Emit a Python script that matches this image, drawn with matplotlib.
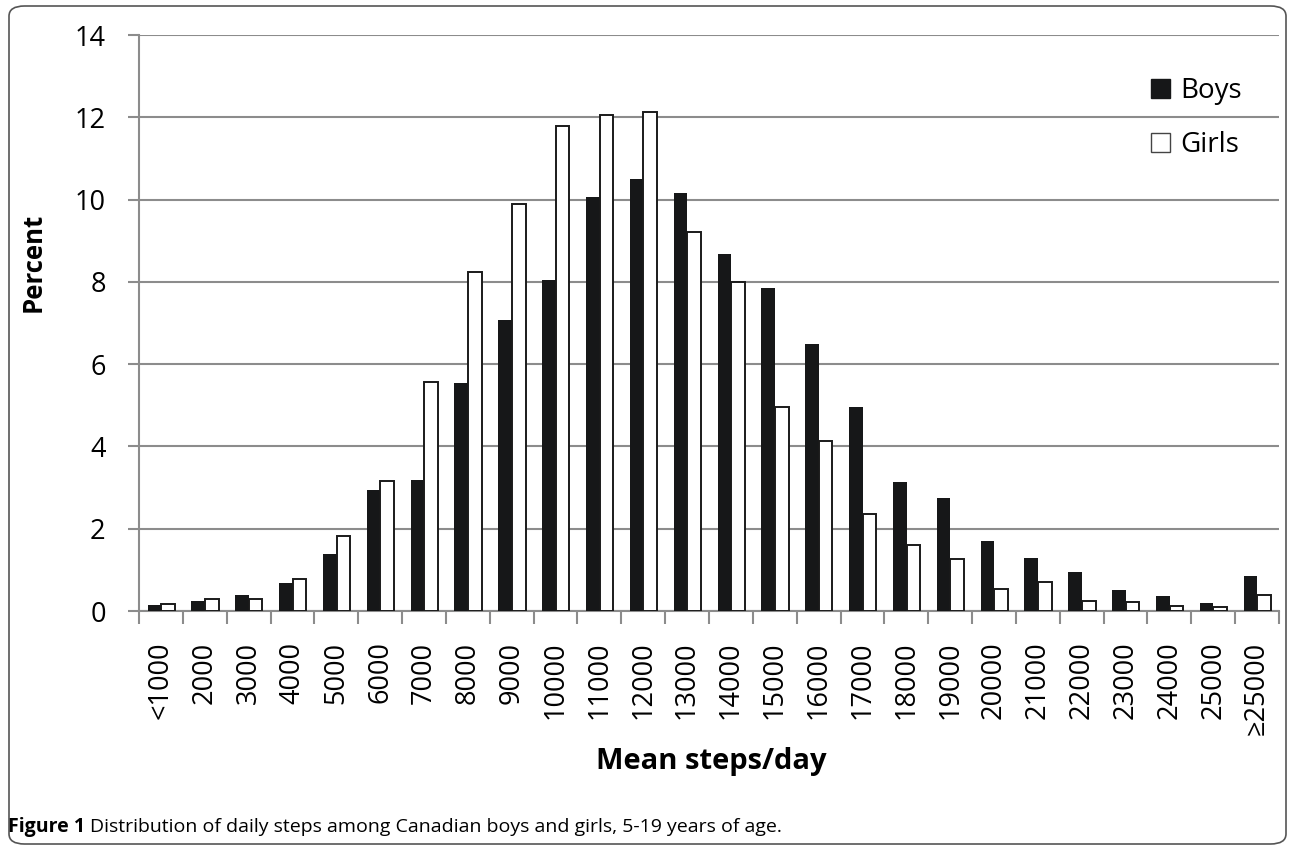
import matplotlib
matplotlib.use("Agg")
import matplotlib.pyplot as plt
from matplotlib.patches import FancyBboxPatch, Patch
import numpy as np

# step categories and percent of children in each
categories = ["<1000", "2000", "3000", "4000", "5000", "6000", "7000", "8000", "9000",
              "10000", "11000", "12000", "13000", "14000", "15000", "16000", "17000",
              "18000", "19000", "20000", "21000", "22000", "23000", "24000", "25000",
              "\u226525000"]
boys = [0.15, 0.24, 0.39, 0.68, 1.38, 2.95, 3.18, 5.55, 7.08, 8.05, 10.07, 10.5,
        10.17, 8.67, 7.84, 6.5, 4.95, 3.13, 2.75, 1.71, 1.29, 0.95, 0.51, 0.37, 0.2, 0.85]
girls = [0.18, 0.28, 0.28, 0.77, 1.82, 3.15, 5.57, 8.24, 9.9, 11.8, 12.06, 12.13,
         9.2, 8.0, 4.97, 4.12, 2.35, 1.6, 1.27, 0.53, 0.7, 0.24, 0.21, 0.11, 0.09, 0.38]

grey = "#8c8c8c"
plt.rcParams['font.family'] = ['Open Sans', 'DejaVu Sans']

fig = plt.figure(figsize=(12.9, 8.48), dpi=100)
ax = fig.add_axes([139 / 1290, 1 - 611 / 848, (1279 - 139) / 1290, (611 - 35) / 848])

x = np.arange(len(categories))
w = 0.31
ax.bar(x - 0.15, boys, width=w, color="#161718", edgecolor="none", zorder=3)
ax.bar(x + 0.16, girls, width=w, color="white", edgecolor="#1a1a1a", linewidth=1.4, zorder=3)

ax.set_xlim(-0.5, len(categories) - 0.5)
ax.set_ylim(0, 14)
ax.set_yticks(range(0, 15, 2))
ax.yaxis.grid(True, color=grey, linewidth=1.5, zorder=0)
ax.set_axisbelow(True)

# ticks between categories, labels centred under them
ax.set_xticks(np.arange(-0.5, len(categories), 1.0))
ax.set_xticklabels([])
ax.set_xticks(x, minor=True)
ax.set_xticklabels(categories, minor=True, rotation=90, fontsize=19.5, va="top")
ax.tick_params(axis="x", which="major", length=9, width=1.5, color=grey, direction="out")
ax.tick_params(axis="x", which="minor", length=0, pad=22)
ax.tick_params(axis="y", length=8, width=1.5, color=grey, pad=16, labelsize=19.5)

for s in ["top", "right"]:
    ax.spines[s].set_visible(False)
for s in ["left", "bottom"]:
    ax.spines[s].set_color(grey)
    ax.spines[s].set_linewidth(1.5)

handles = [Patch(facecolor="#161718", edgecolor="#161718"),
           Patch(facecolor="white", edgecolor="#444444", linewidth=1.0)]
ax.legend(handles, ["Boys", "Girls"], loc="upper left", bbox_to_anchor=(1126 / 1290, 1 - 52 / 848),
          bbox_transform=fig.transFigure, frameon=False, fontsize=20,
          handlelength=0.7, handleheight=0.7, handletextpad=0.35, labelspacing=0.95)

fig.text(0.026, 1 - 262 / 848, "Percent", rotation=90, fontsize=18.5, fontweight="bold",
         ha="center", va="center")
fig.text(711 / 1290, 1 - 762 / 848, "Mean steps/day", fontsize=21, fontweight="bold",
         ha="center", va="center")

# caption
cap1 = fig.text(8 / 1290, 1 - 832 / 848, "Figure 1", fontsize=14, fontweight="bold",
                va="baseline", ha="left")
fig.canvas.draw()
bb = cap1.get_window_extent()
fig.text((bb.x1 + 5) / 1290, 1 - 832 / 848,
         "Distribution of daily steps among Canadian boys and girls, 5-19 years of age.",
         fontsize=14, va="baseline", ha="left")

# rounded frame around the figure
box = FancyBboxPatch((9 / 1290, 4 / 848), 1277 / 1290, 838 / 848,
                     boxstyle="round,pad=0,rounding_size=0.012",
                     transform=fig.transFigure, facecolor="none", edgecolor="#555555",
                     linewidth=1.2)
fig.patches.append(box)

fig.savefig("out.png", dpi=100)
